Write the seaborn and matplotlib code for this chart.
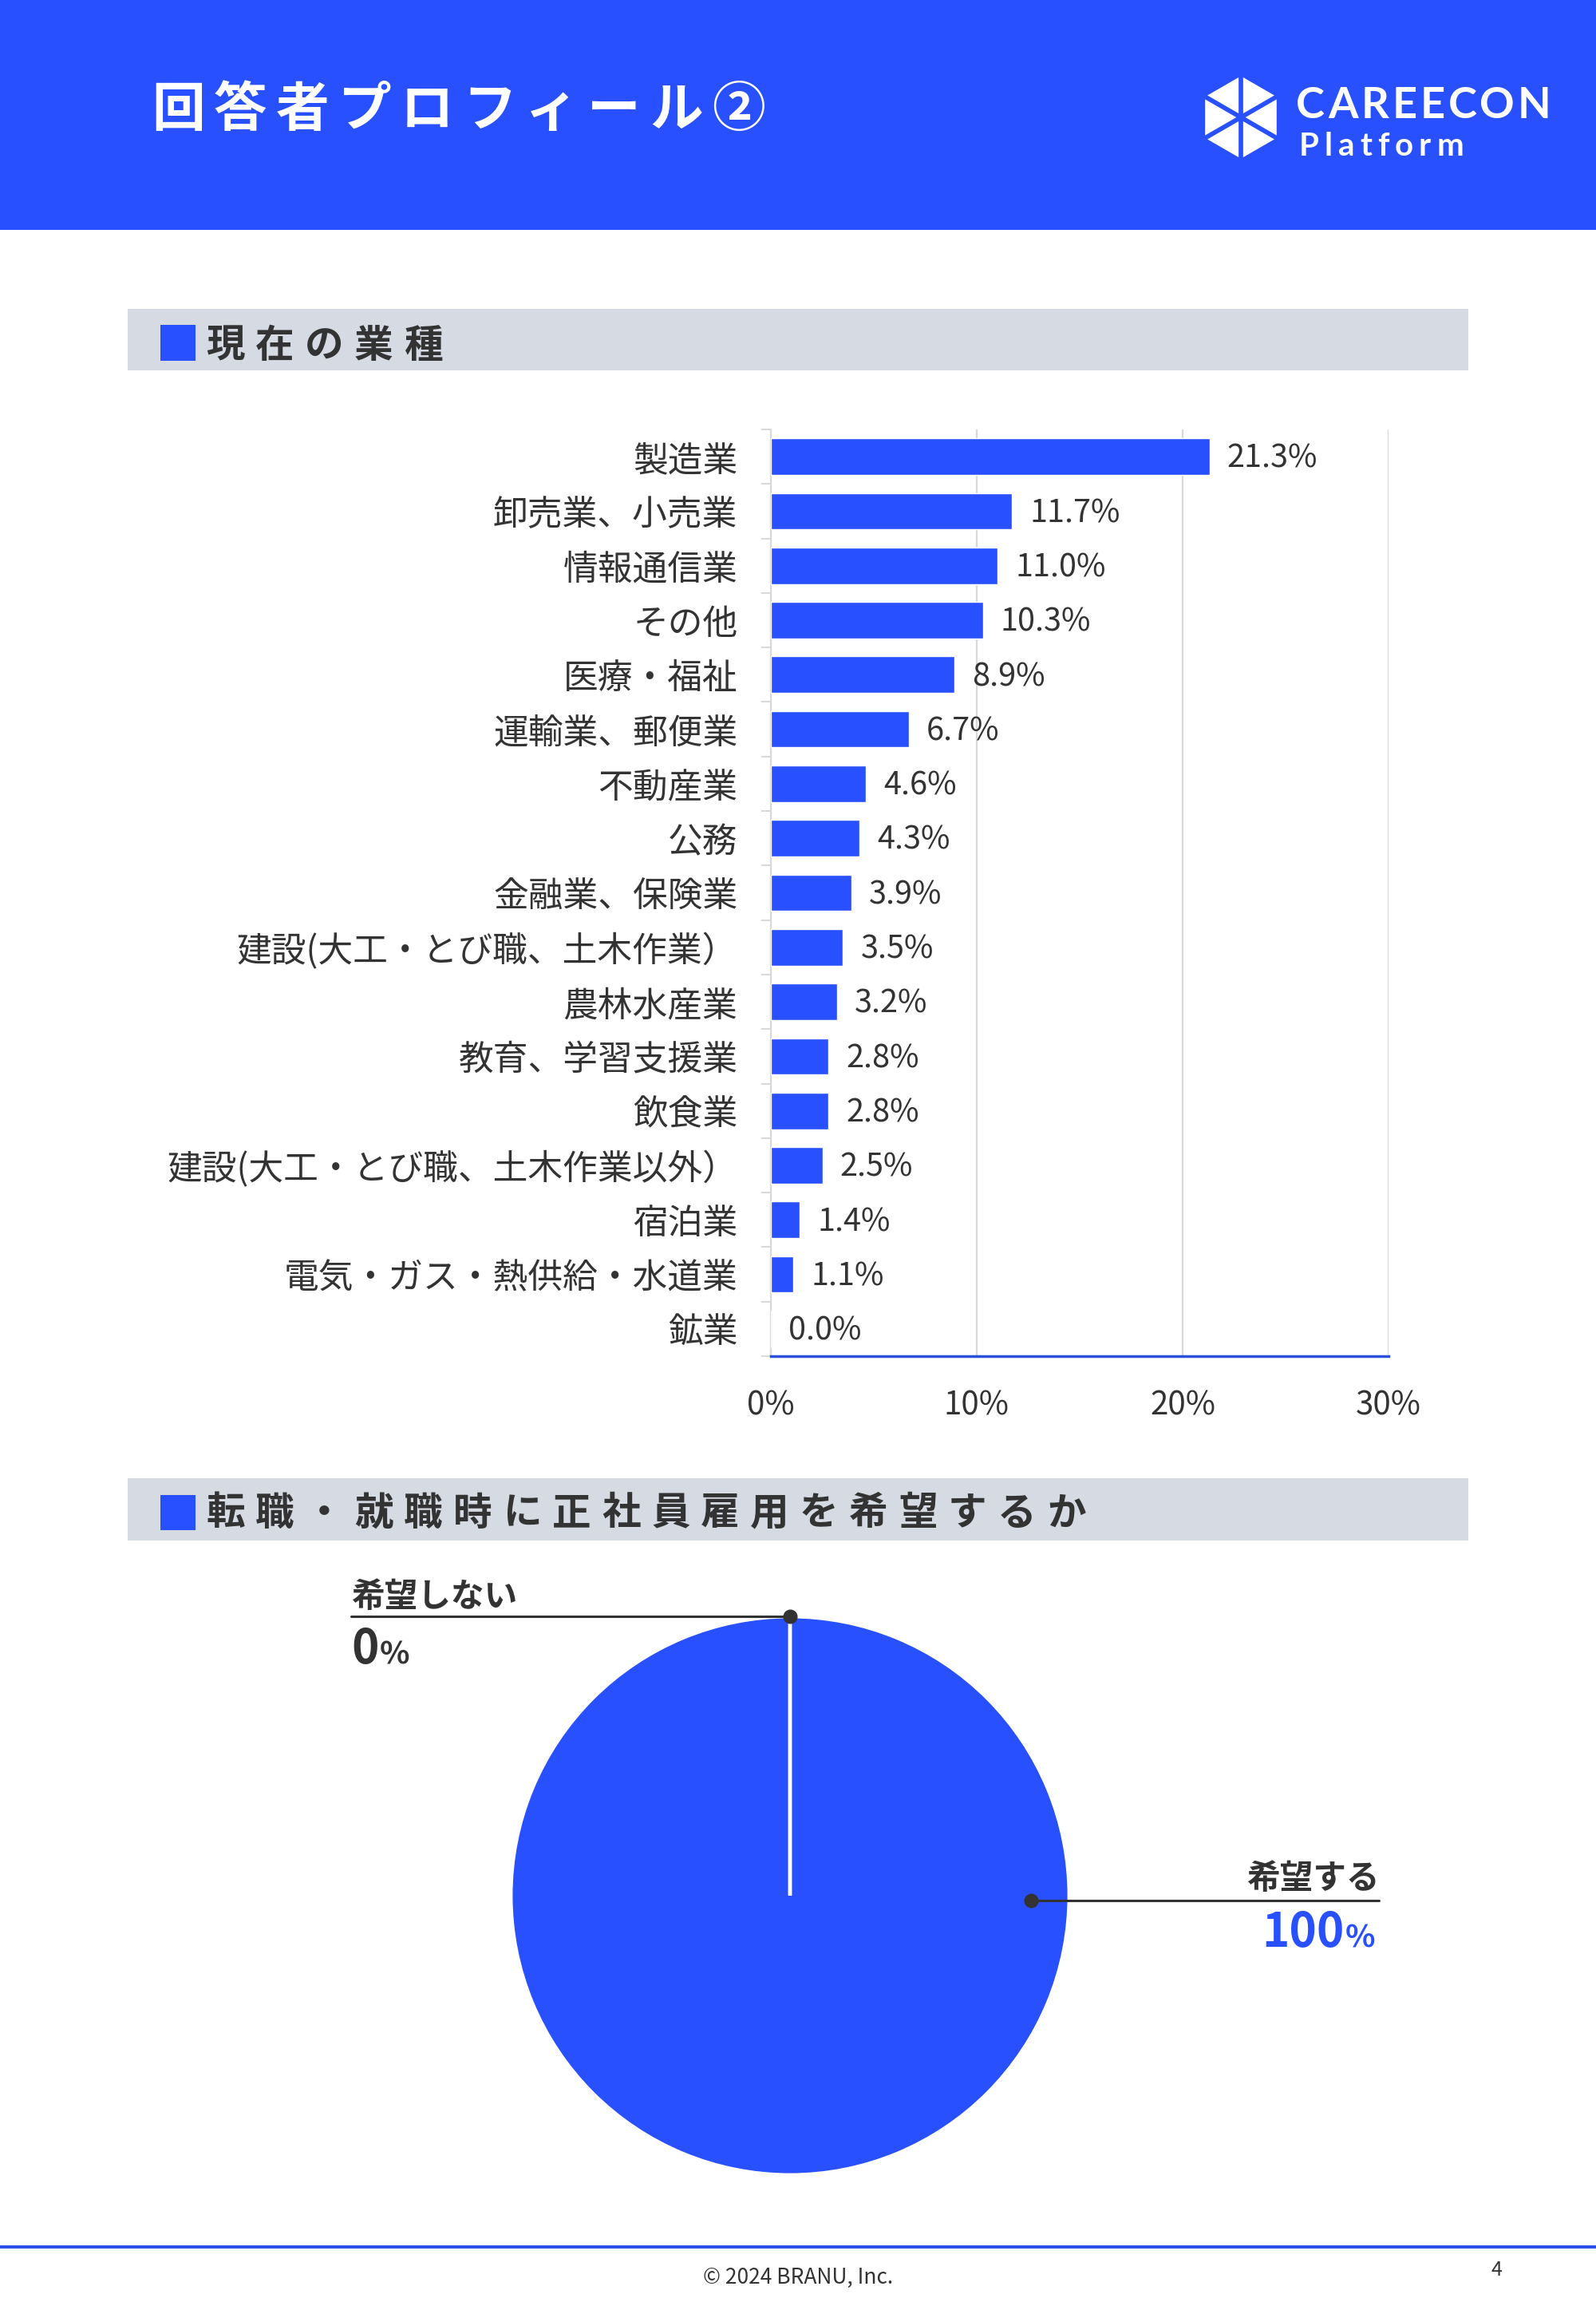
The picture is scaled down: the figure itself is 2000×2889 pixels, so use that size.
import numpy as np
import pandas as pd
import seaborn as sns
import matplotlib
matplotlib.use("Agg")
import matplotlib.pyplot as plt
from matplotlib.patches import Rectangle, Polygon

W, H = 2000, 2889

# --- data ---
industries = [
    "製造業", "卸売業、小売業", "情報通信業", "その他", "医療・福祉",
    "運輸業、郵便業", "不動産業", "公務", "金融業、保険業",
    "建設(大工・とび職、土木作業）", "農林水産業", "教育、学習支援業", "飲食業",
    "建設(大工・とび職、土木作業以外）", "宿泊業", "電気・ガス・熱供給・水道業", "鉱業",
]
shares = [21.3, 11.7, 11.0, 10.3, 8.9, 6.7, 4.6, 4.3, 3.9, 3.5, 3.2, 2.8, 2.8, 2.5, 1.4, 1.1, 0.0]
x_ticks = [0, 10, 20, 30]

pie_labels = ["希望する", "希望しない"]
pie_values = [100, 0]

page_title = "回答者プロフィール②"
section1 = "現在の業種"
section2 = "転職・就職時に正社員雇用を希望するか"

BLUE = "#2850ff"
DARK = "#333333"
GRID = "#d9d9d9"
BAND = "#d6dbe3"

sns.set_theme(style="white")
plt.rcParams["font.family"] = ["Noto Sans CJK JP", "DejaVu Sans"]

fig = plt.figure(figsize=(W / 100, H / 100), dpi=100)
fig.patch.set_facecolor("white")
renderer = fig.canvas.get_renderer()


def fx(x):
    return x / W


def fy(y):
    return 1 - y / H


def box(x0, y0, x1, y1, color):
    fig.patches.append(Rectangle((fx(x0), fy(y1)), (x1 - x0) / W, (y1 - y0) / H,
                                 transform=fig.transFigure, color=color, lw=0, zorder=0))


def spaced(x, y, s, pitch, **kw):
    for i, ch in enumerate(s):
        fig.text(fx(x + i * pitch), fy(y), ch, ha="left", va="center", **kw)


def tracked(x, y, s, track, **kw):
    # letter-spaced text: measure each glyph and add extra space
    for ch in s:
        t = fig.text(fx(x), fy(y), ch, ha="left", va="baseline", **kw)
        bb = t.get_window_extent(renderer)
        x += bb.width + track


# header band + title
box(0, 0, 2000, 288, BLUE)
spaced(190, 138, page_title, 78, fontsize=48, fontweight="bold", color="white")

# logo: hexagon split into six triangles
cx, cy, R = 1555, 147, 55
verts = [(cx + R * np.cos(np.radians(90 + 60 * k)), cy - R * np.sin(np.radians(90 + 60 * k))) for k in range(6)]
for k in range(6):
    tri = np.array([(cx, cy), verts[k], verts[(k + 1) % 6]])
    c = tri.mean(axis=0)
    tri = c + (tri - c) * 0.82
    fig.patches.append(Polygon([(fx(a), fy(b)) for a, b in tri], closed=True,
                               transform=fig.transFigure, color="white", lw=0, zorder=2))
tracked(1624, 148, "CAREECON", 4, family="Lato", fontweight="bold", fontsize=39, color="white")
tracked(1628, 195, "Platform", 7, family="Lato", fontweight="bold", fontsize=29, color="white")

# section headers
box(160, 387, 1840, 464, BAND)
box(201, 407, 245, 452, BLUE)
spaced(258, 433, section1, 62, fontsize=35, fontweight="bold", color=DARK)

box(160, 1852, 1840, 1930, BAND)
box(201, 1873, 245, 1917, BLUE)
spaced(258, 1896, section2, 62, fontsize=35, fontweight="bold", color=DARK)

# --- bar chart ---
df = pd.DataFrame({"industry": industries, "share": shares})
ax = fig.add_axes([fx(966), fy(1699), 774 / W, 1161 / H])
ax.set_facecolor("none")
sns.barplot(data=df, x="share", y="industry", color=BLUE, width=0.67,
            saturation=1, orient="h", errorbar=None, ax=ax, zorder=3)
ax.set_xlim(0, 30)
ax.set_ylim(16.5, -0.5)
ax.set_xticks(x_ticks)
ax.set_xticklabels([f"{t}%" for t in x_ticks])
ax.set_xlabel("")
ax.set_ylabel("")
ax.grid(axis="x", color=GRID, lw=1.6)
ax.set_axisbelow(True)
for s in ["top", "right"]:
    ax.spines[s].set_visible(False)
ax.spines["left"].set_color(GRID)
ax.spines["left"].set_linewidth(1.6)
ax.spines["bottom"].set_color("#2b50dc")
ax.spines["bottom"].set_linewidth(2.5)
ax.spines["bottom"].set_zorder(4)
vals = ax.bar_label(ax.containers[0], labels=[f"{v:.1f}%" for v in shares],
                    padding=17, fontsize=28.5, color=DARK)
for t in vals:
    t.xyann = (16, -2)
ax.set_yticks(np.arange(-0.5, 17, 1), minor=True)
ax.tick_params(axis="y", which="major", length=0, pad=30, labelsize=31.5, labelcolor=DARK)
ax.tick_params(axis="y", which="minor", left=True, length=9, width=1.5, color=GRID)
ax.tick_params(axis="x", length=0, pad=30, labelsize=29, labelcolor=DARK)

# --- pie chart ---
pax = fig.add_axes([fx(640), fy(2725), 700 / W, 700 / H])
pax.pie(pie_values, colors=[BLUE, BLUE], startangle=90, counterclock=False,
        radius=1, wedgeprops=dict(edgecolor="white", linewidth=3.5))
pax.set_xlim(-1, 1)
pax.set_ylim(-1, 1)
pax.axis("off")

inv = pax.transData.inverted()

# 希望しない 0%
pax.plot([-1.571, 0], [1.0, 1.0], color=DARK, lw=2.2, clip_on=False, zorder=5)
pax.plot([0], [1.0], "o", ms=12, color=DARK, clip_on=False, zorder=6)
pax.text(-1.571, 1.069, pie_labels[1], fontsize=30, fontweight="bold", color=DARK,
         ha="left", va="center")
t0 = pax.text(-1.571, 0.831, f"{pie_values[1]}", fontsize=42, fontweight="bold",
              color=DARK, ha="left", va="baseline")
bb = t0.get_window_extent(renderer)
x_end = inv.transform((bb.x1, bb.y0))[0]
pax.text(x_end + 1 / 350, 0.831, "%", fontsize=28, fontweight="bold", color=DARK,
         ha="left", va="baseline")

# 希望する 100%
pax.plot([0.863, 2.109], [-0.017, -0.017], color=DARK, lw=2.2, clip_on=False, zorder=5)
pax.plot([0.863], [-0.017], "o", ms=12, color=DARK, clip_on=False, zorder=6)
pax.text(2.109, 0.06, pie_labels[0], fontsize=30, fontweight="bold", color=DARK,
         ha="right", va="center")
tp = pax.text(2.095, -0.183, "%", fontsize=28, fontweight="bold", color=BLUE,
              ha="right", va="baseline")
bb = tp.get_window_extent(renderer)
x_start = inv.transform((bb.x0, bb.y0))[0]
pax.text(x_start - 1 / 350, -0.183, f"{pie_values[0]}", fontsize=42, fontweight="bold",
         color=BLUE, ha="right", va="baseline")

# footer
box(0, 2813, 2000, 2817, "#2f4fe6")
fig.text(fx(1000), fy(2853), "© 2024 BRANU, Inc.", ha="center", va="center",
         fontsize=19, color=DARK)
fig.text(fx(1875), fy(2844), "4", ha="center", va="center", fontsize=18, color=DARK)

fig.savefig("out.png", dpi=100, facecolor="white")
